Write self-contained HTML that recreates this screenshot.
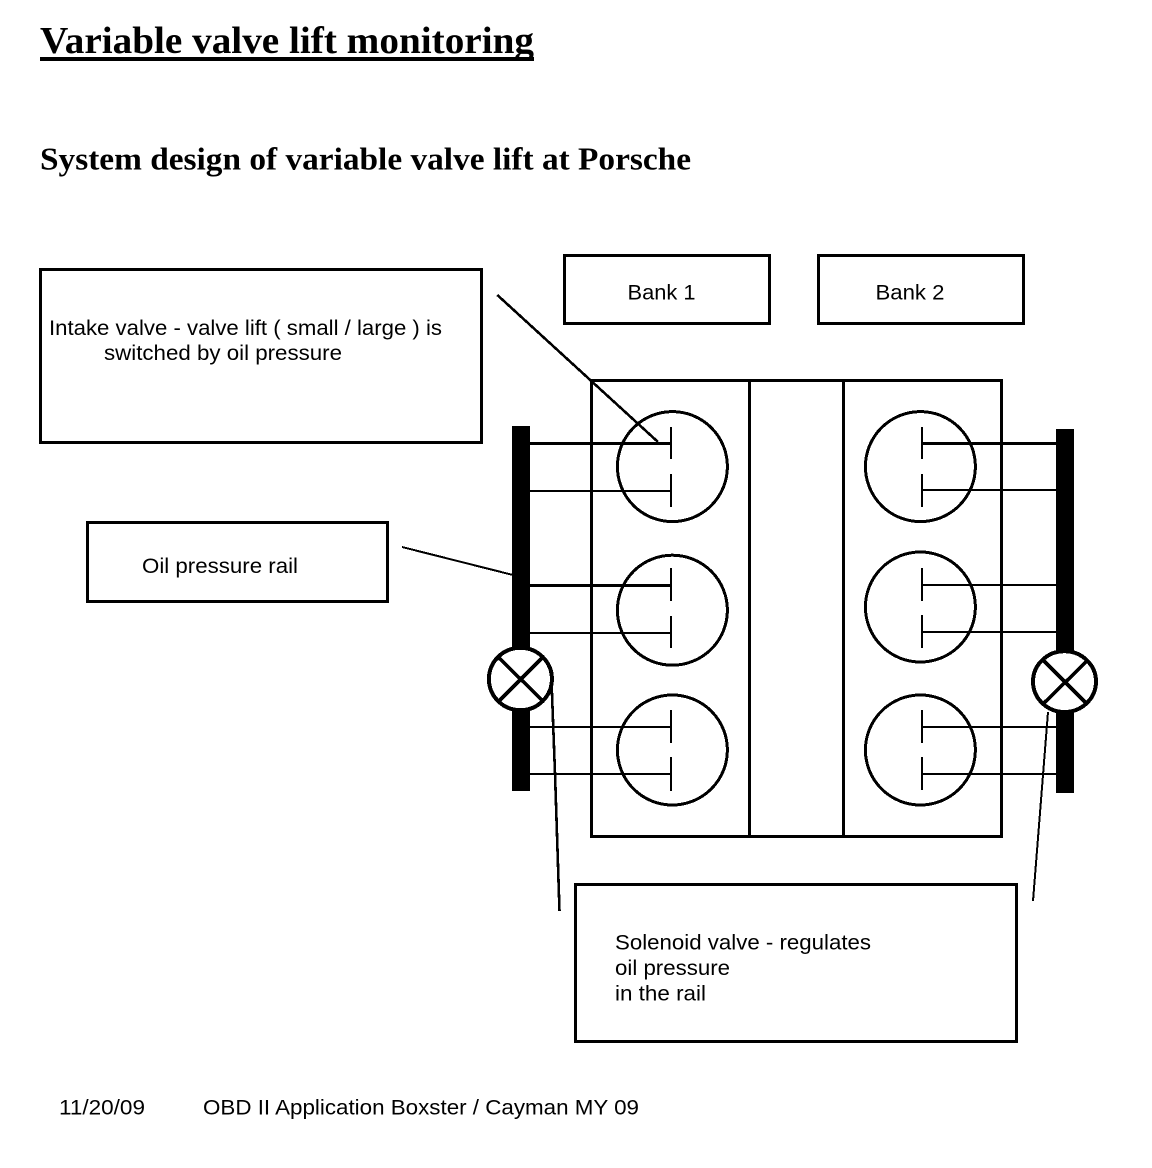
<!DOCTYPE html>
<html>
<head>
<meta charset="utf-8">
<style>
html,body{margin:0;padding:0;background:#fff;}
svg{display:block;}
</style>
</head>
<body>
<svg xmlns="http://www.w3.org/2000/svg" width="1152" height="1168" viewBox="0 0 1152 1168">
<rect width="1152" height="1168" fill="#fff"/>
<g font-family="'Liberation Serif',serif" font-weight="bold" fill="#000">
<text x="40" y="53" font-size="38.5" textLength="494" lengthAdjust="spacingAndGlyphs">Variable valve lift monitoring</text>
<text x="40" y="169.3" font-size="32" textLength="651" lengthAdjust="spacingAndGlyphs">System design of variable valve lift at Porsche</text>
</g>
<g shape-rendering="crispEdges">
<rect x="40" y="57" width="494" height="4" fill="#000"/>
<g fill="none" stroke="#000" stroke-width="3">
<rect x="40.5" y="269.5" width="441" height="173"/>
<rect x="564.5" y="255.5" width="205" height="68"/>
<rect x="818.5" y="255.5" width="205" height="68"/>
<rect x="87.5" y="522.5" width="300" height="79"/>
<rect x="575.5" y="884.5" width="441" height="157"/>
<rect x="591.5" y="380.5" width="410" height="456"/>
<line x1="749.5" y1="380" x2="749.5" y2="837"/>
<line x1="843.5" y1="380" x2="843.5" y2="837"/>
<circle cx="672.4" cy="466.6" r="55"/>
<circle cx="672.4" cy="610.2" r="55"/>
<circle cx="672.4" cy="750" r="55"/>
<circle cx="920.4" cy="466.6" r="55"/>
<circle cx="920.4" cy="607" r="55"/>
<circle cx="920.4" cy="750" r="55"/>
</g>
<g fill="#000">
<rect x="512" y="426" width="18" height="365"/>
<rect x="1056" y="429" width="18" height="364"/>
</g>
<g stroke="#000" stroke-width="3" fill="none">
<path d="M530 443.5H672M530 585.5H672M922 443.5H1056"/>
</g>
<g stroke="#000" stroke-width="2" fill="none">
<path d="M530 491H672M530 633H672M530 727H672M530 774H672"/>
<path d="M922 490H1056M922 585H1056M922 632H1056M922 727H1056M922 774H1056"/>
<path d="M671 427V459M671 474V507M671 568V601M671 616V648M671 710V743M671 757V791"/>
<path d="M922 427V459M922 474V507M922 568V601M922 615V648M922 710V743M922 757V790"/>
<path d="M402 547L513 575"/>
</g>
<g stroke="#000" stroke-width="2.6" fill="none">
<path d="M497.3 295L658 442M551.7 686L555 773L559.5 911"/>
</g>
<path d="M1048 712L1033 901" stroke="#000" stroke-width="2" fill="none"/>
<g fill="#fff" stroke="#000" stroke-width="4">
<ellipse cx="520.4" cy="679" rx="31.5" ry="31.2"/>
<ellipse cx="1064.5" cy="681.6" rx="31.5" ry="30.4"/>
</g>
<g stroke="#000" stroke-width="3.6">
<path d="M498 657L543 701M543 657L499 701M1043 660L1086 703M1087 661L1044 703"/>
</g>
</g>
<g font-family="'Liberation Sans',sans-serif" font-size="21.5" fill="#000">
<text x="627.5" y="299.5" textLength="68" lengthAdjust="spacingAndGlyphs">Bank 1</text>
<text x="875.5" y="299.5" textLength="69" lengthAdjust="spacingAndGlyphs">Bank 2</text>
<text x="49" y="335" textLength="393" lengthAdjust="spacingAndGlyphs">Intake valve - valve lift ( small / large ) is</text>
<text x="104" y="360" textLength="238" lengthAdjust="spacingAndGlyphs">switched by oil pressure</text>
<text x="142" y="573" textLength="156" lengthAdjust="spacingAndGlyphs">Oil pressure rail</text>
<text x="615" y="949.5" textLength="256" lengthAdjust="spacingAndGlyphs">Solenoid valve - regulates</text>
<text x="615" y="975" textLength="115" lengthAdjust="spacingAndGlyphs">oil pressure</text>
<text x="615" y="1000.7" textLength="91" lengthAdjust="spacingAndGlyphs">in the rail</text>
<text x="59" y="1114.7" textLength="86" lengthAdjust="spacingAndGlyphs">11/20/09</text>
<text x="203" y="1114.7" textLength="436" lengthAdjust="spacingAndGlyphs">OBD II Application Boxster / Cayman MY 09</text>
</g>
</svg>
</body>
</html>
